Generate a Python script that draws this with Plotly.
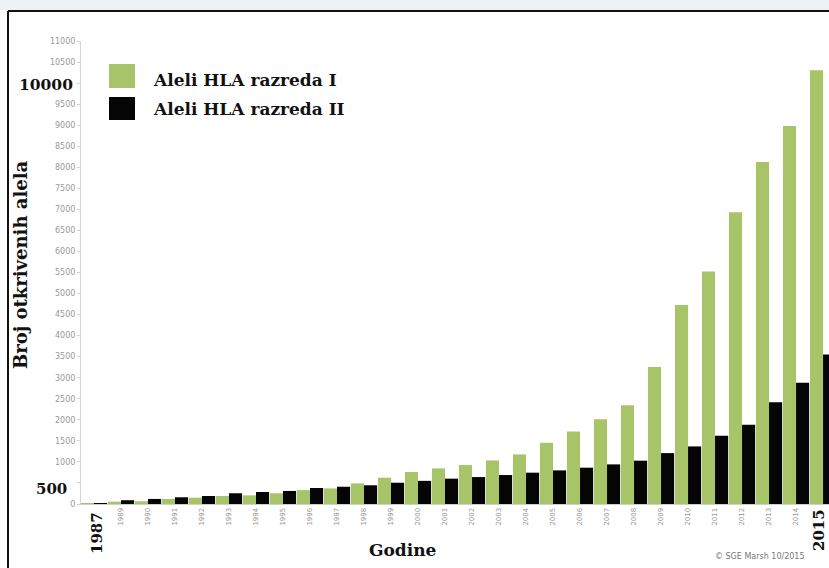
import plotly.graph_objects as go

years = [1987] + list(range(1989, 2016))
class_i = [15, 55, 65, 120, 150, 190, 205, 255, 330, 370, 490, 625, 760, 846, 925,
           1036, 1178, 1455, 1724, 2015, 2347, 3257, 4727, 5524, 6932, 8125, 8978, 10306]
class_ii = [10, 90, 120, 160, 190, 255, 285, 310, 380, 410, 445, 505, 550, 602, 640,
            688, 744, 799, 863, 941, 1029, 1209, 1368, 1622, 1882, 2418, 2878, 3549]
series_names = ["Aleli HLA razreda I", "Aleli HLA razreda II"]
y_tick_values = list(range(0, 11001, 500))
big_y_labels = {500: "500", 10000: "10000"}
x_title = "Godine"
y_title = "Broj otkrivenih alela"
credit = "© SGE Marsh 10/2015"

GREEN = "#a8c468"
BLACK = "#050505"
W, H = 829, 568
ML, MR, MT, MB = 81, 0, 41, 64
PW, PH = W - ML - MR, H - MT - MB


def px(x):
    return (x - ML) / PW


def py(y):
    return (H - MB - y) / PH


idx = list(range(len(years)))
small_idx = idx[1:-1]

fig = go.Figure()
fig.add_trace(go.Bar(x=idx, y=class_i, name=series_names[0], marker=dict(color=GREEN, line=dict(width=0))))
fig.add_trace(go.Bar(x=idx, y=class_ii, name=series_names[1], marker=dict(color=BLACK, line=dict(width=0))))

serif = "DejaVu Serif"
ann = []
# axis titles
ann.append(dict(text="<b>%s</b>" % y_title, x=px(20), y=py(265), textangle=-90,
                font=dict(family=serif, size=18, color="#111")))
ann.append(dict(text="<b>%s</b>" % x_title, x=px(403), y=py(550),
                font=dict(family=serif, size=17, color="#111")))
# big overlaid labels
ann.append(dict(text="<b>%d</b>" % years[0], x=px(97), y=py(533), textangle=-90,
                font=dict(family=serif, size=15, color="#111")))
ann.append(dict(text="<b>%d</b>" % years[-1], x=px(819), y=py(530), textangle=-90,
                font=dict(family=serif, size=15, color="#111")))
ann.append(dict(text="<b>%s</b>" % big_y_labels[10000], x=px(46), y=py(84),
                font=dict(family=serif, size=15.5, color="#111")))
ann.append(dict(text="<b>%s</b>" % big_y_labels[500], x=px(51), y=py(489),
                font=dict(family=serif, size=15, color="#111")))
# legend text
ann.append(dict(text="<b>%s</b>" % series_names[0], x=px(151), y=py(80), xanchor="left",
                font=dict(family=serif, size=17, color="#111")))
ann.append(dict(text="<b>%s</b>" % series_names[1], x=px(151), y=py(109), xanchor="left",
                font=dict(family=serif, size=17, color="#111")))
# credit
ann.append(dict(text=credit, x=px(760), y=py(556),
                font=dict(family="DejaVu Sans", size=8, color="#777")))
for a in ann:
    a.setdefault("xanchor", "center")
    a.setdefault("yanchor", "middle")
    a.update(xref="paper", yref="paper", showarrow=False)

shapes = [
    # legend swatches
    dict(type="rect", xref="paper", yref="paper", x0=px(109), x1=px(135), y0=py(88), y1=py(64),
         fillcolor=GREEN, line=dict(width=0)),
    dict(type="rect", xref="paper", yref="paper", x0=px(109), x1=px(135), y0=py(120), y1=py(97),
         fillcolor=BLACK, line=dict(width=0)),
    # top band
    dict(type="rect", xref="paper", yref="paper", x0=px(0), x1=px(W), y0=py(10), y1=py(0),
         fillcolor="#eef1f5", line=dict(width=0), layer="below"),
    # frame
    dict(type="line", xref="paper", yref="paper", x0=px(8), x1=px(W + 5), y0=py(11), y1=py(11),
         line=dict(color="#111", width=2)),
    dict(type="line", xref="paper", yref="paper", x0=px(8), x1=px(8), y0=py(11), y1=py(H + 5),
         line=dict(color="#111", width=2)),
]

ytext = ["" if v in big_y_labels else str(v) for v in y_tick_values]

fig.update_layout(
    width=W, height=H,
    margin=dict(l=ML, r=MR, t=MT, b=MB, pad=0),
    paper_bgcolor="white", plot_bgcolor="white",
    barmode="group", bargap=0.03, bargroupgap=0,
    showlegend=False,
    annotations=ann, shapes=shapes,
    xaxis=dict(range=[-0.481, 27.22], tickmode="array", tickvals=small_idx,
               ticktext=[str(years[i]) for i in small_idx], tickangle=-90,
               tickfont=dict(family="DejaVu Sans", size=7, color="#999"),
               showline=True, linecolor="#cfcfcf", linewidth=1, ticks="", showgrid=False,
               zeroline=False, automargin=False, fixedrange=True),
    yaxis=dict(range=[0, 11000], tickmode="array", tickvals=y_tick_values, ticktext=ytext,
               tickfont=dict(family="DejaVu Sans", size=8, color="#999"),
               showline=True, linecolor="#d5d5d5", linewidth=1, ticks="outside", ticklen=3,
               tickcolor="#d5d5d5", showgrid=False, zeroline=False, automargin=False),
)

fig.write_html("out.html", config={"displayModeBar": False},
               post_script="document.body.style.margin='0';document.body.style.overflow='hidden';")
